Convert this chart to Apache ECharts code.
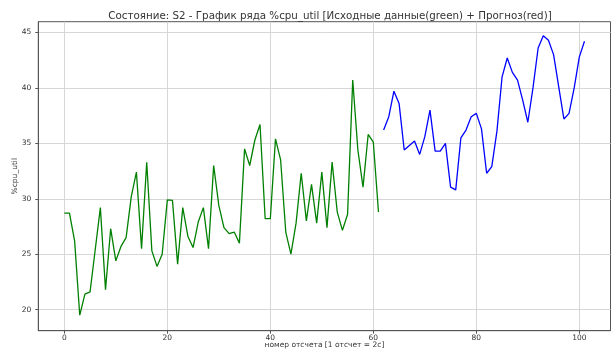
<!DOCTYPE html>
<html><head><meta charset="utf-8">
<script src="https://cdn.jsdelivr.net/npm/echarts@6/dist/echarts.min.js"></script>
<style>html,body{margin:0;padding:0;background:#fff}#c{width:611px;height:349px}</style>
</head><body><div id="c"></div>
<script>
const titleText = 'Состояние: S2 - График ряда %cpu_util [Исходные данные(green) + Прогноз(red)]';
const xAxisName = 'номер отсчета [1 отсчет = 2с]';
const yAxisName = '%cpu_util';
const xTicks = [0, 20, 40, 60, 80, 100];
const yTicks = [20, 25, 30, 35, 40, 45];
const greenStart = 0;
const greenValues = [28.7,28.7,26.2,19.5,21.4,21.6,25.4,29.2,21.8,27.3,24.4,25.7,26.5,30.2,32.4,25.5,33.3,25.3,23.9,25.0,
  29.9,29.85,24.1,29.2,26.6,25.6,27.9,29.2,25.5,33.0,29.4,27.4,26.85,27.0,26.0,34.5,33.0,35.3,36.7,28.2,
  28.2,35.4,33.5,27.0,25.0,27.8,32.3,28.0,31.3,27.8,32.4,27.4,33.3,28.8,27.15,28.6,40.7,34.4,31.05,35.8,
  35.1,28.8];
const blueStart = 62;
const blueValues = [36.2,37.4,39.7,38.6,34.4,34.8,35.2,34.0,35.6,38.0,34.3,34.3,35.0,31.05,30.8,35.5,36.2,37.4,37.7,36.3,
  32.3,32.9,36.1,41.0,42.7,41.4,40.7,38.9,36.9,40.0,43.6,44.7,44.3,43.0,40.1,37.2,37.7,40.0,42.8,44.2];

const toPairs = (start, vals) => vals.map((v, i) => [start + i, v]);
const font = 'DejaVu Sans';
const chart = echarts.init(document.getElementById('c'), null, {renderer: 'canvas'});
chart.setOption({
  animation: false,
  title: {text: titleText, left: 325, top: 6, textAlign: 'center',
    textStyle: {fontFamily: font, fontSize: 10.3, fontWeight: 'normal', color: '#333'}},
  grid: {left: 38.3, right: 0.5, top: 21.7, bottom: 18.3, show: true, borderColor: '#555', borderWidth: 1,
    containLabel: false, outerBoundsMode: 'none'},
  xAxis: {type: 'value', min: -5.05, max: 106.05,
    name: xAxisName, nameLocation: 'middle', nameGap: 10, nameMoveOverlap: false,
    nameTextStyle: {fontFamily: font, fontSize: 7.5, color: '#333'},
    axisLine: {show: true, onZero: false, lineStyle: {color: '#555', width: 1}},
    axisTick: {show: true, length: 3, customValues: xTicks, lineStyle: {color: '#555'}},
    axisLabel: {customValues: xTicks, fontFamily: font, fontSize: 7.5, color: '#333', margin: 3, showMinLabel: true, showMaxLabel: true},
    splitLine: {show: true, lineStyle: {color: '#d6d6d6', width: 1}}},
  yAxis: {type: 'value', min: 18.1, max: 45.97,
    name: yAxisName, nameLocation: 'middle', nameGap: 19, nameRotate: 90, nameMoveOverlap: false,
    nameTextStyle: {fontFamily: font, fontSize: 7.5, color: '#333'},
    axisLine: {show: true, onZero: false, lineStyle: {color: '#555', width: 1}},
    axisTick: {show: true, length: 3, customValues: yTicks, lineStyle: {color: '#555'}},
    axisLabel: {customValues: yTicks, fontFamily: font, fontSize: 7.5, color: '#333', margin: 7},
    splitLine: {show: true, lineStyle: {color: '#d6d6d6', width: 1}}},
  series: [
    {type: 'line', data: toPairs(greenStart, greenValues), showSymbol: false, lineStyle: {color: '#008000', width: 1.3}, itemStyle: {color: '#008000'}},
    {type: 'line', data: toPairs(blueStart, blueValues), showSymbol: false, lineStyle: {color: '#0000ff', width: 1.3}, itemStyle: {color: '#0000ff'}}
  ]
});
</script></body></html>
